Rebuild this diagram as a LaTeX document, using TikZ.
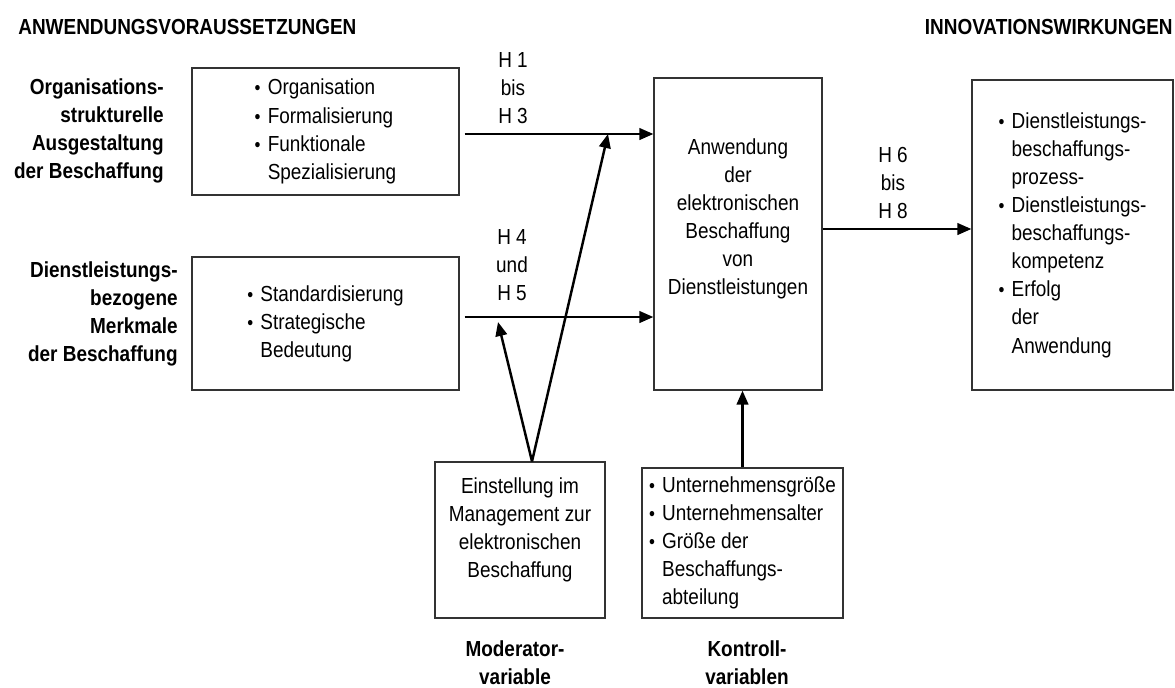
\documentclass[tikz,border=0pt]{standalone}
\usepackage{fontspec}
\setmainfont{Liberation Sans}[FakeStretch=0.87]
\usetikzlibrary{arrows.meta, positioning, calc}
\newcommand{\txt}{\fontsize{12.4}{16}\selectfont}
\newcommand{\bul}{\makebox[0.6em][l]{\fontsize{11}{11}\selectfont\textbullet}}
\newcommand{\ind}{\hspace*{0.6em}}
\tikzstyle{box} = [rectangle, draw=black!80, line width=0.7pt, align=center, inner sep=0pt, font=\txt]
\tikzstyle{link} = [line width=1.4pt, -{Triangle[length=2.8mm, width=2.3mm]}]
\tikzstyle{heading} = [font=\txt\bfseries, inner sep=0pt]
\tikzstyle{side} = [font=\txt\bfseries, align=right, inner sep=0pt]
\tikzstyle{hyp} = [font=\txt, align=center, inner sep=0pt]
\begin{document}
\begin{tikzpicture}[x=0.02cm, y=-0.02cm]
	\useasboundingbox (0,0) rectangle (1175,687);

	% Headings
	\node[heading, anchor=west] (pre) at (18,27) {ANWENDUNGSVORAUSSETZUNGEN};
	\node[heading, anchor=east] (post) at (1173,27) {INNOVATIONSWIRKUNGEN};

	% Left side labels
	\node[side, anchor=east] (orglab) at (164,131) {Organisations-\\strukturelle\\Ausgestaltung\\der Beschaffung};
	\node[side, anchor=east] (dllab) at (178,314) {Dienstleistungs-\\bezogene\\Merkmale\\der Beschaffung};

	% Boxes
	\node[box, align=left, minimum width=5.34cm, minimum height=2.54cm] (org) at (325.5,131.5) {\bul Organisation\\\bul Formalisierung\\\bul Funktionale\\\ind Spezialisierung};
	\node[box, align=left, minimum width=5.34cm, minimum height=2.66cm] (dl) at (325.5,323.5) {\bul Standardisierung\\\bul Strategische\\\ind Bedeutung};
	\node[box, minimum width=3.36cm, minimum height=6.24cm] (app) at (738,234) {Anwendung\\der\\elektronischen\\Beschaffung\\von\\Dienstleistungen\\[4pt]\mbox{}};
	\node[box, align=left, minimum width=4.02cm, minimum height=6.2cm] (eff) at (1072.5,235) {\bul Dienstleistungs-\\\ind beschaffungs-\\\ind prozess-\\\bul Dienstleistungs-\\\ind beschaffungs-\\\ind kompetenz\\\bul Erfolg\\\ind der\\\ind Anwendung};
	\node[box, minimum width=3.4cm, minimum height=3.12cm] (mod) at (520,540) {Einstellung im\\Management zur\\elektronischen\\Beschaffung\\[-2pt]\mbox{}};
	\node[box, align=left, minimum width=4.02cm, minimum height=3cm] (ctrl) at (742.5,543) {\bul Unternehmensgröße\\\bul Unternehmensalter\\\bul Größe der\\\ind Beschaffungs-\\\ind abteilung};

	% Hypotheses
	\node[hyp] (h13) at (513,88) {H 1\\bis\\H 3};
	\node[hyp] (h45) at (512,265) {H 4\\und\\H 5};
	\node[hyp] (h68) at (893,183) {H 6\\bis\\H 8};

	% Bottom labels
	\node[side, align=center] (modlab) at (515,663) {Moderator-\\variable};
	\node[side, align=center] (ctrllab) at (747,663) {Kontroll-\\variablen};

	% Arrows
	\draw[link, shorten <=1mm] ([yshift=-0.05cm]org.east) -- ([yshift=-0.05cm]org.east -| app.west);
	\draw[link, shorten <=1mm] ([yshift=0.13cm]dl.east) -- ([yshift=0.13cm]dl.east -| app.west);
	\draw[link] ([yshift=0.1cm]app.east) -- ([yshift=0.1cm]app.east -| eff.west);
	\draw[link] (ctrl.north) -- (ctrl.north |- app.south);

	% Moderator
	\coordinate (modtop) at ([xshift=0.24cm]mod.north);
	\coordinate (h13hit) at (608,134);
	\coordinate (h45hit) at (498,322);
	\draw[link] (modtop) -- (h13hit);
	\draw[link] (modtop) -- (h45hit);

\end{tikzpicture}
\end{document}
